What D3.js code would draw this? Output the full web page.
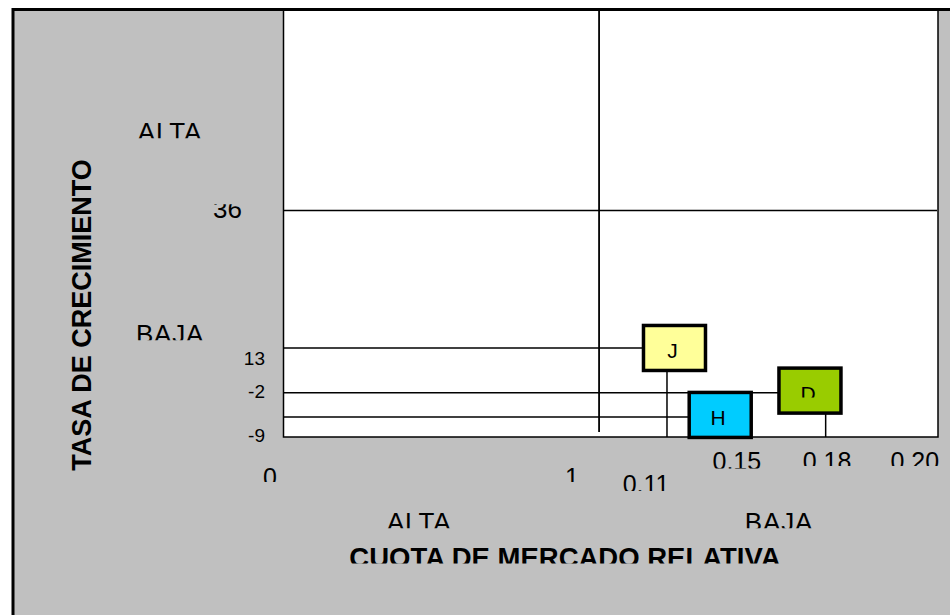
<!DOCTYPE html>
<html>
<head>
<meta charset="utf-8">
<script src="https://cdn.jsdelivr.net/npm/d3@7"></script>
<style>
  body { margin: 0; background: #fff; }
  svg { display: block; }
</style>
</head>
<body>
<div id="chart"></div>
<script>
// Datos de la matriz (posiciones en unidades del gráfico, 0-100)
const productos = ["J", "H", "D"];
const cuotaProducto = [58.65, 66.8, 82.95];
const crecimientoProducto = [20.85, 4.7, 10.35];
const coloresProducto = ["#ffff99", "#00ccff", "#99cc00"];

const divisionCuota = 48.25;
const divisionCrecimiento = 53.05;

const etiquetasX = ["0", "1", "0.11", "0.15", "0.18", "0.20"];
const posicionesX = [-2.15, 44.1, 55.45, 69.35, 83.15, 96.6];
const etiquetasY = ["36", "13", "-2", "-9"];
const posicionesY = [53.45, 18.5, 10.65, 0.35];

const nivelesCrecimiento = ["ALTA", "BAJA"];
const posNivelesCrecimiento = [71.4, 24.1];
const nivelesCuota = ["ALTA", "BAJA"];
const posNivelesCuota = [20.7, 75.8];

const tituloY = "TASA DE CRECIMIENTO";
const tituloX = "CUOTA DE MERCADO RELATIVA";

function createBcgChart() {
    const width = 950;
    const height = 615;
    const plotLeft = 284, plotRight = 937, plotTop = 10, plotBottom = 437;

    const x = d3.scaleLinear().domain([0, 100]).range([plotLeft, plotRight]);
    const y = d3.scaleLinear().domain([0, 100]).range([plotBottom, plotTop]);

    const svg = d3.select("#chart")
        .append("svg")
        .attr("width", width)
        .attr("height", height)
        .attr("viewBox", [0, 0, width, height])
        .style("font-family", "'Liberation Sans', Arial, sans-serif");

    let clipId = 0;
    // Texto recortado como los cuadros de texto de Excel
    function texto(o) {
        const t = svg.append("text")
            .attr("x", o.x)
            .attr("y", o.y)
            .attr("text-anchor", o.anchor || "middle")
            .attr("font-size", o.size)
            .attr("font-weight", o.weight || "normal")
            .attr("letter-spacing", o.spacing || 0)
            .attr("fill", "#000")
            .text(o.text);
        if (o.cut || o.above) {
            const id = "clip" + (clipId++);
            const top = o.y - (o.above || o.size * 1.2);
            svg.append("clipPath").attr("id", id)
                .append("rect")
                .attr("x", 0).attr("width", width)
                .attr("y", top)
                .attr("height", (o.y - (o.cut || 0)) - top);
            t.attr("clip-path", `url(#${id})`);
        }
        return t;
    }

    // Fondo gris
    svg.append("rect")
        .attr("x", 13).attr("y", 9.5)
        .attr("width", width + 20).attr("height", height + 20)
        .attr("fill", "#c0c0c0");

    // Área de la matriz
    svg.append("rect")
        .attr("x", plotLeft - 0.5).attr("y", plotTop)
        .attr("width", plotRight - plotLeft + 1.5).attr("height", plotBottom - plotTop)
        .attr("fill", "#fff")
        .attr("stroke", "#000")
        .attr("stroke-width", 1.5);

    // Marco exterior
    svg.append("rect")
        .attr("x", 13).attr("y", 9.5)
        .attr("width", width + 20).attr("height", height + 20)
        .attr("fill", "none")
        .attr("stroke", "#000")
        .attr("stroke-width", 3);

    // Divisiones de cuadrantes
    svg.append("line")
        .attr("x1", x(divisionCuota)).attr("x2", x(divisionCuota))
        .attr("y1", y(100)).attr("y2", y(1.2))
        .attr("stroke", "#000").attr("stroke-width", 1.8);
    svg.append("line")
        .attr("x1", x(0)).attr("x2", x(100))
        .attr("y1", y(divisionCrecimiento)).attr("y2", y(divisionCrecimiento))
        .attr("stroke", "#000").attr("stroke-width", 1.5);

    const datos = productos.map((p, i) => ({
        nombre: p, cuota: cuotaProducto[i], crecimiento: crecimientoProducto[i], color: coloresProducto[i]
    }));

    // Líneas de referencia de cada producto
    const lineas = svg.append("g").attr("stroke", "#000").attr("stroke-width", 1.5);
    lineas.selectAll(".h")
        .data(datos)
        .join("line")
        .attr("x1", x(0))
        .attr("x2", d => x(d.cuota))
        .attr("y1", d => y(d.crecimiento))
        .attr("y2", d => y(d.crecimiento));
    lineas.selectAll(".v")
        .data(datos)
        .join("line")
        .attr("x1", d => x(d.cuota))
        .attr("x2", d => x(d.cuota))
        .attr("y1", d => y(d.crecimiento))
        .attr("y2", y(0));

    // Cuadros de productos
    const desplazamiento = { J: [7.5, 0], H: [0, -2], D: [-15.7, -2.2] };
    const corteLetra = { J: 0, H: 0, D: 3.5 };
    const boxW = 62, boxH = 45;
    datos.forEach(d => {
        const cx = x(d.cuota) + desplazamiento[d.nombre][0];
        const cy = y(d.crecimiento) + desplazamiento[d.nombre][1];
        svg.append("rect")
            .attr("x", cx - boxW / 2).attr("y", cy - boxH / 2)
            .attr("width", boxW).attr("height", boxH)
            .attr("fill", d.color)
            .attr("stroke", "#000")
            .attr("stroke-width", 3.5);
        texto({ x: cx - 2, y: cy + 10.5, text: d.nombre, size: 21, cut: corteLetra[d.nombre] });
    });

    // Etiquetas del eje X
    const filaX = [49, 49, 56, 33, 33, 33];
    const corteX = [4, 4, 2, 1.5, 4, 4];
    etiquetasX.forEach((e, i) => texto({
        x: x(posicionesX[i]), y: plotBottom + filaX[i], text: e, size: 25, cut: corteX[i]
    }));

    // Etiquetas del eje Y
    etiquetasY.forEach((e, i) => {
        const grande = i === 0;
        const size = grande ? 26 : 19;
        texto({
            x: plotLeft - (grande ? 42 : 19),
            y: y(posicionesY[i]) + size * 0.36,
            text: e, size: size, anchor: "end",
            above: grande ? 14 : null
        });
    });

    // Niveles ALTA / BAJA
    nivelesCrecimiento.forEach((e, i) => texto({
        x: plotLeft - 114, y: y(posNivelesCrecimiento[i]) + 9, text: e, size: 26, spacing: 0.8, cut: 2.8
    }));
    nivelesCuota.forEach((e, i) => texto({
        x: x(posNivelesCuota[i]), y: plotBottom + 94, text: e, size: 26, spacing: 0.8, cut: 2.8
    }));

    // Títulos
    svg.append("text")
        .attr("transform", "translate(90.5,315) rotate(-90)")
        .attr("text-anchor", "middle")
        .attr("font-size", 27)
        .attr("font-weight", "bold")
        .text(tituloY);
    texto({ x: 565, y: 567, text: tituloX, size: 27.5, weight: "bold", cut: 3.5 });
}

document.addEventListener("DOMContentLoaded", createBcgChart);
</script>
</body>
</html>
